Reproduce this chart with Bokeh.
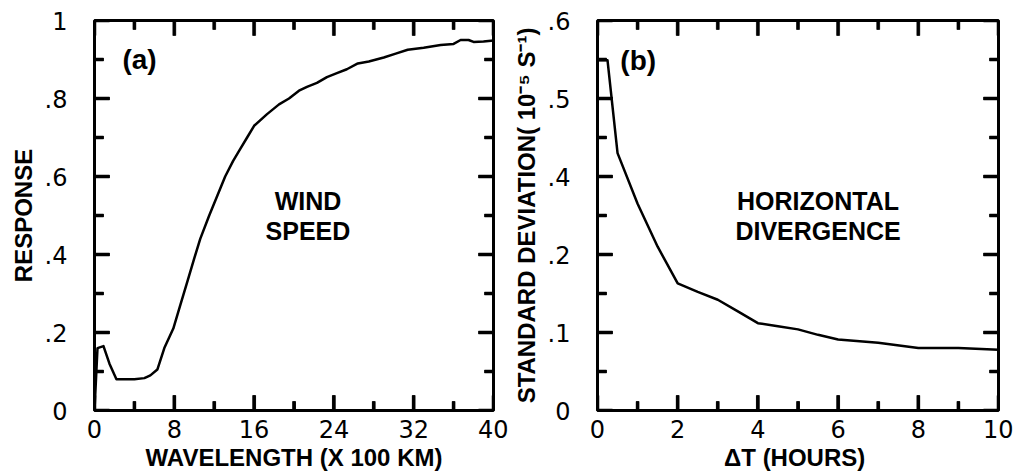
from bokeh.plotting import figure
from bokeh.models import FixedTicker, Range1d, Label
from bokeh.layouts import row
from bokeh.embed import file_html
from bokeh.resources import INLINE

# ---- data: panel (a) response vs wavelength (x 100 km)
wavelength = [0.0, 0.3, 0.9, 1.5, 2.2, 3.0, 4.0, 5.0, 5.6, 6.3, 7.0, 7.9, 8.6, 9.3,
              10.0, 10.6, 11.5, 12.3, 13.1, 13.9, 14.6, 15.3, 16.0, 17.3, 18.5,
              19.5, 20.5, 21.3, 22.3, 23.3, 24.3, 25.3, 26.4, 27.5, 29.0, 30.2,
              31.4, 33.0, 34.7, 36.0, 36.7, 37.5, 38.0, 39.0, 40.0]
response = [0.0, 0.16, 0.165, 0.12, 0.08, 0.08, 0.08, 0.083, 0.09, 0.105, 0.16,
            0.21, 0.27, 0.33, 0.39, 0.44, 0.50, 0.55, 0.60, 0.64, 0.67, 0.70,
            0.73, 0.76, 0.785, 0.80, 0.82, 0.83, 0.84, 0.855, 0.865, 0.875, 0.89,
            0.895, 0.905, 0.915, 0.925, 0.93, 0.937, 0.94, 0.95, 0.95, 0.945,
            0.946, 0.949]

# ---- data: panel (b) standard deviation vs delta T (hours)
dt_hours = [0.0, 0.25, 0.5, 1.0, 1.5, 2.0, 2.5, 3.0, 3.5, 4.0, 4.5, 5.0, 5.5,
            6.0, 7.0, 8.0, 9.0, 10.0]
std_dev = [0.449, 0.449, 0.33, 0.265, 0.21, 0.163, 0.152, 0.142, 0.127, 0.112,
           0.108, 0.104, 0.097, 0.091, 0.087, 0.080, 0.080, 0.078]

# ---- ticks
xa_ticks = [0, 8, 16, 24, 32, 40]
xa_minor = [4, 12, 20, 28, 36]
ya_ticks = [0, 0.2, 0.4, 0.6, 0.8, 1.0]
ya_labels = ["0", ".2", ".4", ".6", ".8", "1"]
ya_minor = [0.1, 0.3, 0.5, 0.7, 0.9]

xb_ticks = [0, 2, 4, 6, 8, 10]
xb_minor = [1, 3, 5, 7, 9]
yb_ticks = [0, 0.1, 0.2, 0.3, 0.4, 0.5]
yb_labels = ["0", ".1", ".2", ".4", ".5", ".6"]
yb_minor = [0.05, 0.15, 0.25, 0.35, 0.45]

TICK_FONT = "DejaVu Sans"
LABEL_FONT = "Liberation Sans"
MAJOR_PX = 15
MINOR_PX = 9
TICK_W_PX = 3
FRAME_H = 390


def style_axis(ax, ticks, minor, labels=None):
    ax.ticker = FixedTicker(ticks=ticks, minor_ticks=minor)
    ax.major_tick_in = MAJOR_PX
    ax.major_tick_out = 0
    ax.minor_tick_in = MINOR_PX
    ax.minor_tick_out = 0
    ax.major_tick_line_width = 2.5
    ax.minor_tick_line_width = 2.5
    ax.major_tick_line_color = "black"
    ax.minor_tick_line_color = "black"
    ax.major_label_text_font = TICK_FONT
    ax.major_label_text_font_size = "24px"
    ax.major_label_text_color = "black"
    if labels is not None:
        ax.major_label_overrides = {t: l for t, l in zip(ticks, labels)}
    ax.axis_label_text_font = LABEL_FONT
    ax.axis_label_text_font_style = "bold"
    ax.axis_label_text_font_size = "24px"
    ax.axis_label_text_color = "black"


def add_ticks(p, xr, yr, frame_w, xt, xm, yt, ym):
    """Inward tick marks on all four sides, placed at the tick values."""
    dx = (xr[1] - xr[0]) / frame_w
    dy = (yr[1] - yr[0]) / FRAME_H
    hx = TICK_W_PX / 2 * dx
    hy = TICK_W_PX / 2 * dy
    L, R, B, T = [], [], [], []
    mxs, mys = [], []
    for vals, n in ((xt, MAJOR_PX), (xm, MINOR_PX)):
        for v in vals:
            L += [v - hx, v - hx]; R += [v + hx, v + hx]
            B += [yr[0], yr[1] - n * dy]; T += [yr[0] + n * dy, yr[1]]
            mxs += [[v, v], [v, v]]
            mys += [[yr[0], yr[0] + n * dy], [yr[1] - n * dy, yr[1]]]
    for vals, n in ((yt, MAJOR_PX), (ym, MINOR_PX)):
        for v in vals:
            B += [v - hy, v - hy]; T += [v + hy, v + hy]
            L += [xr[0], xr[1] - n * dx]; R += [xr[0] + n * dx, xr[1]]
            mys += [[v, v], [v, v]]
            mxs += [[xr[0], xr[0] + n * dx], [xr[1] - n * dx, xr[1]]]
    p.quad(left=L, right=R, bottom=B, top=T, fill_color="black", line_color="black",
           line_width=0.5)
    p.multi_line(xs=mxs, ys=mys, line_color="black", line_width=2.5)


def add_text(p, x, y, lines, size, dy_px=30):
    n = len(lines)
    for i, t in enumerate(lines):
        off = ((n - 1) / 2 - i) * dy_px
        p.add_layout(Label(x=x, y=y, y_offset=off, text=t, text_font=LABEL_FONT,
                           text_font_style="bold", text_font_size=size,
                           text_baseline="middle", text_align="center",
                           text_color="black"))


def make_fig(width, xr, yr, bl, br):
    p = figure(width=width, height=474, x_range=Range1d(*xr), y_range=Range1d(*yr),
               output_backend="svg", toolbar_location=None,
               min_border_left=bl, min_border_right=br,
               min_border_top=20, min_border_bottom=64)
    p.grid.visible = False
    p.outline_line_color = "black"
    p.outline_line_width = 3
    return p


# ---- panel (a)
p1 = make_fig(508, (0, 40), (0, 1), 94, 15)
p1.line(wavelength, response, line_color="black", line_width=2.5, line_join="round")
add_ticks(p1, (0, 40), (0, 1), 399, xa_ticks, xa_minor, ya_ticks, ya_minor)
style_axis(p1.xaxis[0], xa_ticks, xa_minor)
style_axis(p1.yaxis[0], ya_ticks, ya_minor, ya_labels)
p1.xaxis[0].axis_label = "WAVELENGTH (X 100 KM)"
p1.yaxis[0].axis_label = "RESPONSE"
p1.xaxis[0].major_label_standoff = 9
p1.xaxis[0].axis_label_standoff = 3
p1.yaxis[0].major_label_standoff = 27
p1.yaxis[0].axis_label_standoff = 5
p1.add_layout(Label(x=2.8, y=0.9, text="(a)", text_font=LABEL_FONT, text_font_style="bold",
                    text_font_size="28px", text_baseline="middle", text_align="left",
                    text_color="black"))
add_text(p1, 21.4, 0.5, ["WIND", "SPEED"], "25px")

# ---- panel (b)
p2 = make_fig(505, (0, 10), (0, 0.5), 89, 15)
p2.line(dt_hours, std_dev, line_color="black", line_width=2.5, line_join="round")
add_ticks(p2, (0, 10), (0, 0.5), 401, xb_ticks, xb_minor, yb_ticks, yb_minor)
style_axis(p2.xaxis[0], xb_ticks, xb_minor)
style_axis(p2.yaxis[0], yb_ticks, yb_minor, yb_labels)
p2.xaxis[0].axis_label = "\u0394T  (HOURS)"
p2.yaxis[0].axis_label = "STANDARD DEVIATION( 10\u207b\u2075 S\u207b\u00b9)"
p2.xaxis[0].major_label_standoff = 9
p2.xaxis[0].axis_label_standoff = 3
p2.yaxis[0].major_label_standoff = 27
p2.yaxis[0].axis_label_standoff = 5
p2.add_layout(Label(x=0.57, y=0.449, text="(b)", text_font=LABEL_FONT, text_font_style="bold",
                    text_font_size="28px", text_baseline="middle", text_align="left",
                    text_color="black"))
add_text(p2, 5.5, 0.25, ["HORIZONTAL", "DIVERGENCE"], "25px")

layout = row(p1, p2)
open("out.html", "w").write(file_html(layout, INLINE))
